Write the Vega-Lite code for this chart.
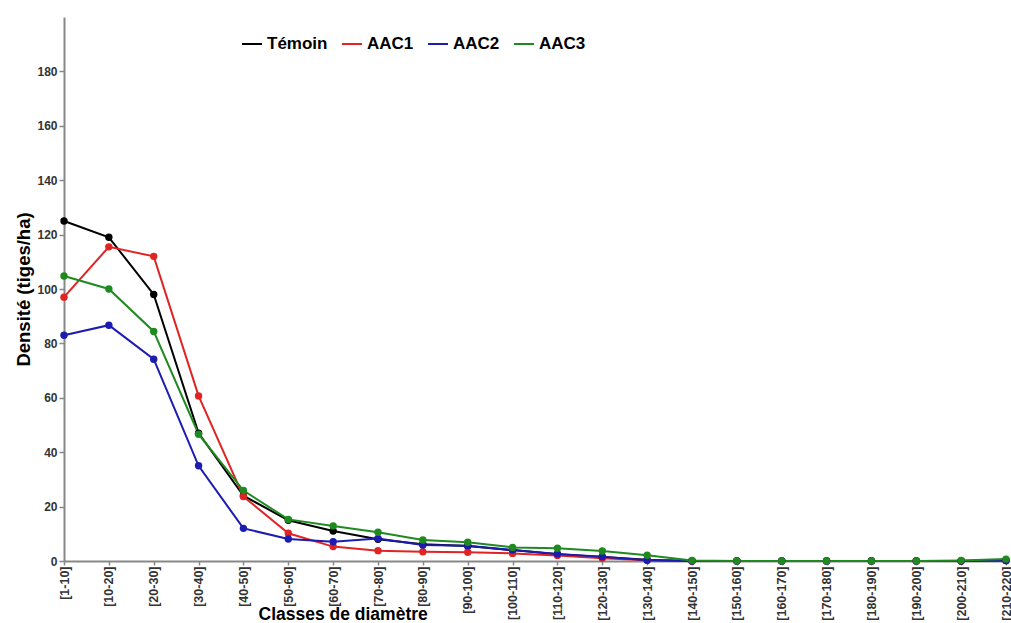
{
  "$schema": "https://vega.github.io/schema/vega-lite/v6.json",
  "width": 942,
  "height": 544,
  "autosize": {"type": "none"},
  "padding": {"left": 64, "top": 17, "right": 5, "bottom": 62},
  "background": "white",
  "config": {
    "font": "Liberation Sans",
    "view": {"stroke": null},
    "axis": {"grid": false, "domainColor": "#888888", "domainWidth": 2, "tickColor": "#888888", "tickWidth": 1.5, "tickSize": 5, "labelFont": "Liberation Sans", "labelFontWeight": "bold", "labelFontSize": 12, "labelColor": "#333333", "titleFont": "Liberation Sans", "titleFontWeight": "bold", "titleFontSize": 17.5, "titleColor": "#000000"}
  },
  "data": {
    "values": [
      {"classe": "[1-10]", "traitement": "Témoin", "densite": 125},
      {"classe": "[10-20]", "traitement": "Témoin", "densite": 119},
      {"classe": "[20-30]", "traitement": "Témoin", "densite": 98},
      {"classe": "[30-40]", "traitement": "Témoin", "densite": 47},
      {"classe": "[40-50]", "traitement": "Témoin", "densite": 24},
      {"classe": "[50-60]", "traitement": "Témoin", "densite": 15},
      {"classe": "[60-70]", "traitement": "Témoin", "densite": 11},
      {"classe": "[70-80]", "traitement": "Témoin", "densite": 8},
      {"classe": "[80-90]", "traitement": "Témoin", "densite": 6.2},
      {"classe": "[90-100]", "traitement": "Témoin", "densite": 5.5},
      {"classe": "[100-110]", "traitement": "Témoin", "densite": 4},
      {"classe": "[110-120]", "traitement": "Témoin", "densite": 2.5},
      {"classe": "[120-130]", "traitement": "Témoin", "densite": 1.5},
      {"classe": "[130-140]", "traitement": "Témoin", "densite": 0.5},
      {"classe": "[140-150]", "traitement": "Témoin", "densite": 0},
      {"classe": "[150-160]", "traitement": "Témoin", "densite": 0},
      {"classe": "[160-170]", "traitement": "Témoin", "densite": 0},
      {"classe": "[170-180]", "traitement": "Témoin", "densite": 0},
      {"classe": "[180-190]", "traitement": "Témoin", "densite": 0},
      {"classe": "[190-200]", "traitement": "Témoin", "densite": 0},
      {"classe": "[200-210]", "traitement": "Témoin", "densite": 0},
      {"classe": "[210-220]", "traitement": "Témoin", "densite": 0.2},
      {"classe": "[1-10]", "traitement": "AAC1", "densite": 97},
      {"classe": "[10-20]", "traitement": "AAC1", "densite": 115.5},
      {"classe": "[20-30]", "traitement": "AAC1", "densite": 112},
      {"classe": "[30-40]", "traitement": "AAC1", "densite": 60.7},
      {"classe": "[40-50]", "traitement": "AAC1", "densite": 23.7},
      {"classe": "[50-60]", "traitement": "AAC1", "densite": 10.2},
      {"classe": "[60-70]", "traitement": "AAC1", "densite": 5.3},
      {"classe": "[70-80]", "traitement": "AAC1", "densite": 3.8},
      {"classe": "[80-90]", "traitement": "AAC1", "densite": 3.4},
      {"classe": "[90-100]", "traitement": "AAC1", "densite": 3.2},
      {"classe": "[100-110]", "traitement": "AAC1", "densite": 2.8},
      {"classe": "[110-120]", "traitement": "AAC1", "densite": 2},
      {"classe": "[120-130]", "traitement": "AAC1", "densite": 1},
      {"classe": "[130-140]", "traitement": "AAC1", "densite": 0.3},
      {"classe": "[140-150]", "traitement": "AAC1", "densite": 0},
      {"classe": "[150-160]", "traitement": "AAC1", "densite": 0},
      {"classe": "[160-170]", "traitement": "AAC1", "densite": 0},
      {"classe": "[170-180]", "traitement": "AAC1", "densite": 0},
      {"classe": "[180-190]", "traitement": "AAC1", "densite": 0},
      {"classe": "[190-200]", "traitement": "AAC1", "densite": 0},
      {"classe": "[200-210]", "traitement": "AAC1", "densite": 0},
      {"classe": "[210-220]", "traitement": "AAC1", "densite": 0.2},
      {"classe": "[1-10]", "traitement": "AAC2", "densite": 83},
      {"classe": "[10-20]", "traitement": "AAC2", "densite": 86.7},
      {"classe": "[20-30]", "traitement": "AAC2", "densite": 74.2},
      {"classe": "[30-40]", "traitement": "AAC2", "densite": 35},
      {"classe": "[40-50]", "traitement": "AAC2", "densite": 12},
      {"classe": "[50-60]", "traitement": "AAC2", "densite": 8.1},
      {"classe": "[60-70]", "traitement": "AAC2", "densite": 7.1},
      {"classe": "[70-80]", "traitement": "AAC2", "densite": 8.3},
      {"classe": "[80-90]", "traitement": "AAC2", "densite": 5.9},
      {"classe": "[90-100]", "traitement": "AAC2", "densite": 5.6},
      {"classe": "[100-110]", "traitement": "AAC2", "densite": 4},
      {"classe": "[110-120]", "traitement": "AAC2", "densite": 2.6},
      {"classe": "[120-130]", "traitement": "AAC2", "densite": 1.6},
      {"classe": "[130-140]", "traitement": "AAC2", "densite": 0.3},
      {"classe": "[140-150]", "traitement": "AAC2", "densite": 0},
      {"classe": "[150-160]", "traitement": "AAC2", "densite": 0},
      {"classe": "[160-170]", "traitement": "AAC2", "densite": 0},
      {"classe": "[170-180]", "traitement": "AAC2", "densite": 0},
      {"classe": "[180-190]", "traitement": "AAC2", "densite": 0},
      {"classe": "[190-200]", "traitement": "AAC2", "densite": 0},
      {"classe": "[200-210]", "traitement": "AAC2", "densite": 0},
      {"classe": "[210-220]", "traitement": "AAC2", "densite": 0.2},
      {"classe": "[1-10]", "traitement": "AAC3", "densite": 104.8},
      {"classe": "[10-20]", "traitement": "AAC3", "densite": 100},
      {"classe": "[20-30]", "traitement": "AAC3", "densite": 84.4},
      {"classe": "[30-40]", "traitement": "AAC3", "densite": 46.6},
      {"classe": "[40-50]", "traitement": "AAC3", "densite": 25.9},
      {"classe": "[50-60]", "traitement": "AAC3", "densite": 15.3},
      {"classe": "[60-70]", "traitement": "AAC3", "densite": 12.9},
      {"classe": "[70-80]", "traitement": "AAC3", "densite": 10.6},
      {"classe": "[80-90]", "traitement": "AAC3", "densite": 7.7},
      {"classe": "[90-100]", "traitement": "AAC3", "densite": 6.9},
      {"classe": "[100-110]", "traitement": "AAC3", "densite": 5},
      {"classe": "[110-120]", "traitement": "AAC3", "densite": 4.7},
      {"classe": "[120-130]", "traitement": "AAC3", "densite": 3.7},
      {"classe": "[130-140]", "traitement": "AAC3", "densite": 2.1},
      {"classe": "[140-150]", "traitement": "AAC3", "densite": 0.2},
      {"classe": "[150-160]", "traitement": "AAC3", "densite": 0},
      {"classe": "[160-170]", "traitement": "AAC3", "densite": 0},
      {"classe": "[170-180]", "traitement": "AAC3", "densite": 0},
      {"classe": "[180-190]", "traitement": "AAC3", "densite": 0},
      {"classe": "[190-200]", "traitement": "AAC3", "densite": 0},
      {"classe": "[200-210]", "traitement": "AAC3", "densite": 0.2},
      {"classe": "[210-220]", "traitement": "AAC3", "densite": 0.7}
    ]
  },
  "mark": {"type": "line", "strokeWidth": 2, "point": {"filled": true, "size": 55, "opacity": 1}},
  "encoding": {
    "x": {
      "field": "classe",
      "type": "ordinal",
      "sort": null,
      "scale": {"type": "point", "padding": 0},
      "axis": {"labelAngle": -90, "labelFontSize": 12.5, "tickSize": 4, "title": "Classes de diamètre", "titleAnchor": "start", "titleAlign": "left", "titleX": 194, "titleY": 58, "titleBaseline": "alphabetic", "labelPadding": 1}
    },
    "y": {
      "field": "densite",
      "type": "quantitative",
      "scale": {"domain": [0, 200], "nice": false},
      "axis": {"values": [0, 20, 40, 60, 80, 100, 120, 140, 160, 180], "title": "Densité (tiges/ha)", "titleFontSize": 18.5, "titlePadding": 3, "labelPadding": 2}
    },
    "color": {
      "field": "traitement",
      "type": "nominal",
      "sort": ["Témoin", "AAC1", "AAC2", "AAC3"],
      "scale": {"domain": ["Témoin", "AAC1", "AAC2", "AAC3"], "range": ["#000000", "#e02424", "#1c1cb0", "#1f8a1f"]},
      "legend": {"title": null, "orient": "none", "direction": "horizontal", "legendX": 177, "legendY": 16, "symbolType": "stroke", "symbolSize": 400, "symbolStrokeWidth": 2, "labelFont": "Liberation Sans", "labelFontWeight": "bold", "labelFontSize": 17, "labelColor": "#000000", "columnPadding": 10, "labelOffset": 4}
    }
  }
}
